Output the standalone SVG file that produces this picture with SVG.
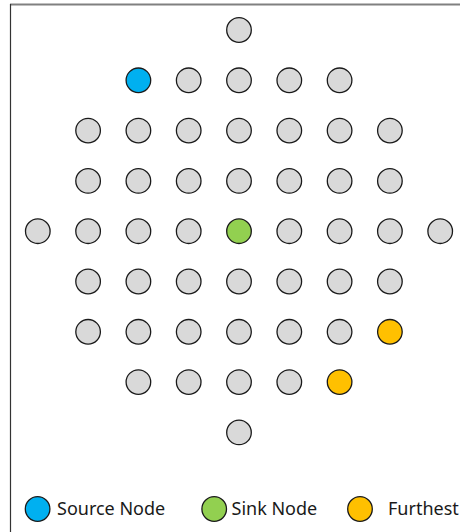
<svg xmlns="http://www.w3.org/2000/svg" width="460" height="532" viewBox="0 0 460 532">
<style>
.n{stroke:#1a1a1a;stroke-width:1.3}
.g{fill:#d9d9d9}
.src{fill:#00b0f0}
.snk{fill:#92d050}
.far{fill:#ffc000}
.t{font-family:"Noto Sans","Open Sans",sans-serif;font-size:18px;fill:#1a1a1a}
</style>
<rect width="460" height="532" fill="#fff"/>
<line x1="10" y1="4.5" x2="460" y2="4.5" stroke="#808080" stroke-width="2"/>
<line x1="10.5" y1="4" x2="10.5" y2="532" stroke="#333" stroke-width="1.2"/>
<g id="connectors"/>
<g id="nodes">
<g id="r0c4"><circle class="n g" cx="239" cy="30" r="12.3"/></g>
<g id="r1c2"><circle class="n src" cx="138.4" cy="80.3" r="12.3"/></g>
<g id="r1c3"><circle class="n g" cx="188.7" cy="80.3" r="12.3"/></g>
<g id="r1c4"><circle class="n g" cx="239" cy="80.3" r="12.3"/></g>
<g id="r1c5"><circle class="n g" cx="289.3" cy="80.3" r="12.3"/></g>
<g id="r1c6"><circle class="n g" cx="339.6" cy="80.3" r="12.3"/></g>
<g id="r2c1"><circle class="n g" cx="88.1" cy="130.6" r="12.3"/></g>
<g id="r2c2"><circle class="n g" cx="138.4" cy="130.6" r="12.3"/></g>
<g id="r2c3"><circle class="n g" cx="188.7" cy="130.6" r="12.3"/></g>
<g id="r2c4"><circle class="n g" cx="239" cy="130.6" r="12.3"/></g>
<g id="r2c5"><circle class="n g" cx="289.3" cy="130.6" r="12.3"/></g>
<g id="r2c6"><circle class="n g" cx="339.6" cy="130.6" r="12.3"/></g>
<g id="r2c7"><circle class="n g" cx="389.9" cy="130.6" r="12.3"/></g>
<g id="r3c1"><circle class="n g" cx="88.1" cy="180.9" r="12.3"/></g>
<g id="r3c2"><circle class="n g" cx="138.4" cy="180.9" r="12.3"/></g>
<g id="r3c3"><circle class="n g" cx="188.7" cy="180.9" r="12.3"/></g>
<g id="r3c4"><circle class="n g" cx="239" cy="180.9" r="12.3"/></g>
<g id="r3c5"><circle class="n g" cx="289.3" cy="180.9" r="12.3"/></g>
<g id="r3c6"><circle class="n g" cx="339.6" cy="180.9" r="12.3"/></g>
<g id="r3c7"><circle class="n g" cx="389.9" cy="180.9" r="12.3"/></g>
<g id="r4c0"><circle class="n g" cx="37.8" cy="231.2" r="12.3"/></g>
<g id="r4c1"><circle class="n g" cx="88.1" cy="231.2" r="12.3"/></g>
<g id="r4c2"><circle class="n g" cx="138.4" cy="231.2" r="12.3"/></g>
<g id="r4c3"><circle class="n g" cx="188.7" cy="231.2" r="12.3"/></g>
<g id="r4c4"><circle class="n snk" cx="239" cy="231.2" r="12.3"/></g>
<g id="r4c5"><circle class="n g" cx="289.3" cy="231.2" r="12.3"/></g>
<g id="r4c6"><circle class="n g" cx="339.6" cy="231.2" r="12.3"/></g>
<g id="r4c7"><circle class="n g" cx="389.9" cy="231.2" r="12.3"/></g>
<g id="r4c8"><circle class="n g" cx="440.2" cy="231.2" r="12.3"/></g>
<g id="r5c1"><circle class="n g" cx="88.1" cy="281.5" r="12.3"/></g>
<g id="r5c2"><circle class="n g" cx="138.4" cy="281.5" r="12.3"/></g>
<g id="r5c3"><circle class="n g" cx="188.7" cy="281.5" r="12.3"/></g>
<g id="r5c4"><circle class="n g" cx="239" cy="281.5" r="12.3"/></g>
<g id="r5c5"><circle class="n g" cx="289.3" cy="281.5" r="12.3"/></g>
<g id="r5c6"><circle class="n g" cx="339.6" cy="281.5" r="12.3"/></g>
<g id="r5c7"><circle class="n g" cx="389.9" cy="281.5" r="12.3"/></g>
<g id="r6c1"><circle class="n g" cx="88.1" cy="331.8" r="12.3"/></g>
<g id="r6c2"><circle class="n g" cx="138.4" cy="331.8" r="12.3"/></g>
<g id="r6c3"><circle class="n g" cx="188.7" cy="331.8" r="12.3"/></g>
<g id="r6c4"><circle class="n g" cx="239" cy="331.8" r="12.3"/></g>
<g id="r6c5"><circle class="n g" cx="289.3" cy="331.8" r="12.3"/></g>
<g id="r6c6"><circle class="n g" cx="339.6" cy="331.8" r="12.3"/></g>
<g id="r6c7"><circle class="n far" cx="389.9" cy="331.8" r="12.3"/></g>
<g id="r7c2"><circle class="n g" cx="138.4" cy="382.1" r="12.3"/></g>
<g id="r7c3"><circle class="n g" cx="188.7" cy="382.1" r="12.3"/></g>
<g id="r7c4"><circle class="n g" cx="239" cy="382.1" r="12.3"/></g>
<g id="r7c5"><circle class="n g" cx="289.3" cy="382.1" r="12.3"/></g>
<g id="r7c6"><circle class="n far" cx="339.6" cy="382.1" r="12.3"/></g>
<g id="r8c4"><circle class="n g" cx="239" cy="432.4" r="12.3"/></g>
</g>
<g id="legend">
<g id="leg-source"><circle class="n src" cx="37.6" cy="509" r="12.3"/><text class="t" x="57" y="515">Source Node</text></g>
<g id="leg-sink"><circle class="n snk" cx="214.2" cy="509" r="12.3"/><text class="t" x="231.5" y="515">Sink Node</text></g>
<g id="leg-furthest"><circle class="n far" cx="360" cy="509" r="12.3"/><text class="t" x="388" y="515">Furthest</text></g>
</g>
</svg>
